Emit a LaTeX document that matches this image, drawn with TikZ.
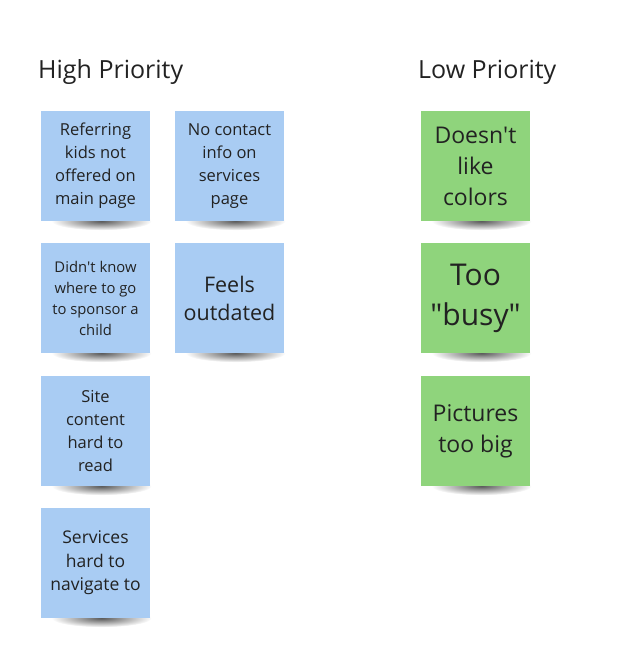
\documentclass[tikz,border=0pt]{standalone}
\usepackage{fontspec}
\setmainfont{Open Sans}
\usetikzlibrary{backgrounds}
\definecolor{noteblue}{HTML}{A9CCF3}
\definecolor{notegreen}{HTML}{8FD47C}
\definecolor{notetext}{HTML}{222222}

\begin{document}
\begin{tikzpicture}[x=1pt,y=-1pt]
      \tikzstyle{every node}=[text=notetext,inner sep=0pt]
      \tikzstyle{note}=[minimum width=109pt,minimum height=110pt,
			align=center]
      \tikzstyle{bluenote}=[note,fill=noteblue]
      \tikzstyle{greennote}=[note,fill=notegreen]
      \tikzstyle{noteshadow}=[shading=radial,inner color=black!65,
			      outer color=white]
      \useasboundingbox (0,0) rectangle (621,654);
      % headings
      \node (high) [anchor=base west,font=\fontsize{25}{30}\selectfont]
	  at (38,78) {High Priority};
      \node (low) [anchor=base west,font=\fontsize{25}{30}\selectfont]
	  at (418,78) {Low Priority};
      % high priority notes
      \node (referring) [bluenote,font=\fontsize{16.5}{23}\selectfont]
	  at (95.5,166) {Referring\\kids not\\offered on\\main page};
      \node (contact) [bluenote,font=\fontsize{16.5}{23}\selectfont]
	  at (229.5,166) {No contact\\info on\\services\\page};
      \node (sponsor) [bluenote,font=\fontsize{14.8}{21}\selectfont]
	  at (95.5,298) {Didn\textquotesingle t know\\where to go\\to sponsor a\\child};
      \node (outdated) [bluenote,font=\fontsize{21.5}{28}\selectfont]
	  at (229.5,298) {Feels\\outdated};
      \node (content) [bluenote,font=\fontsize{16.5}{23}\selectfont]
	  at (95.5,431) {Site\\content\\hard to\\read};
      \node (services) [bluenote,font=\fontsize{17.5}{23.5}\selectfont]
	  at (95.5,563) {Services\\hard to\\navigate to};
      % low priority notes
      \node (colors) [greennote,font=\fontsize{23}{31}\selectfont]
	  at (475.5,166) {Doesn\textquotesingle t\\like\\colors};
      \node (busy) [greennote,font=\fontsize{30}{40}\selectfont]
	  at (475.5,298) {Too\\\textquotedbl busy\textquotedbl};
      \node (pictures) [greennote,font=\fontsize{23}{31}\selectfont]
	  at (475.5,431) {Pictures\\too big};
      % shadows under the notes
      \begin{scope}[on background layer]
	\foreach \n in {referring,contact,sponsor,outdated,content,
			services,colors,busy,pictures}
	  \shade[noteshadow] ([xshift=6pt]\n.south) ellipse (50pt and 9pt);
      \end{scope}
\end{tikzpicture}
\end{document}
